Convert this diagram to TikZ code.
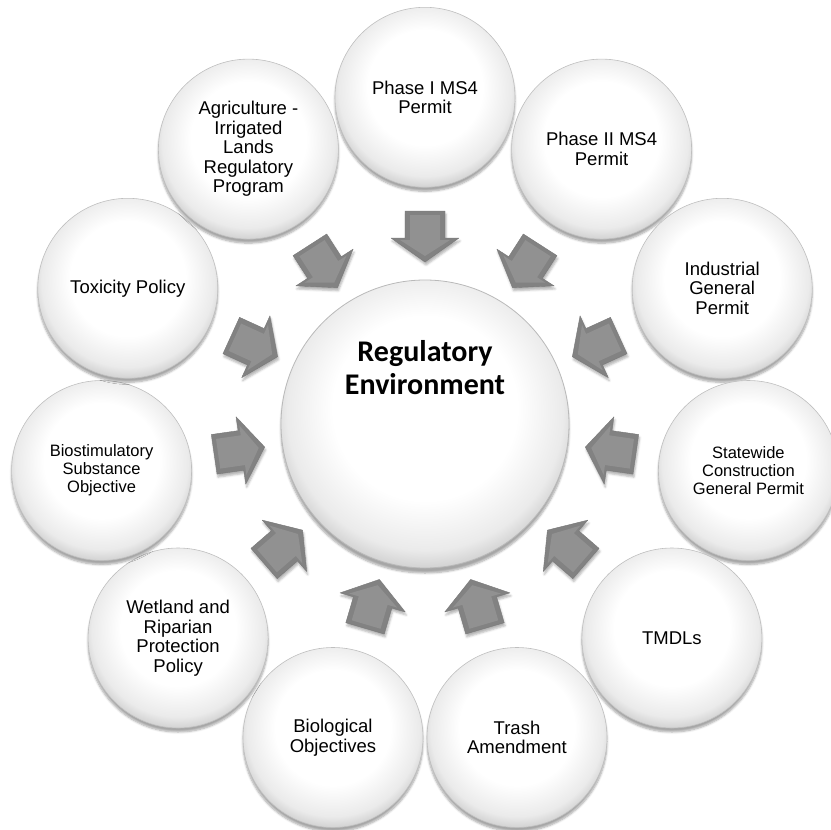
\documentclass[tikz,border=0pt]{standalone}
\usepackage{fontspec}
\setmainfont{Liberation Sans}
\newfontfamily\calibri{Carlito}
\usetikzlibrary{shadows,shadows.blur,calc}
\pgfdeclareradialshading{bubbleshade}{\pgfpoint{0bp}{4bp}}{%
  color(0bp)=(white); color(16bp)=(white); color(24bp)=(gray!16);
  color(27bp)=(gray!36); color(50bp)=(gray!40)}
\begin{document}
\begin{tikzpicture}[x=1pt,y=-1pt,
  bubble/.style={circle, minimum size=180pt, inner sep=0pt, draw=gray!50,
    line width=0.6pt, shading=bubbleshade,
    blur shadow={shadow xshift=0pt, shadow yshift=-4pt, shadow opacity=35, shadow blur steps=6},
    align=center, font=\fontsize{18.5}{19.5}\selectfont},
  smalltext/.style={font=\fontsize{16.5}{17.9}\selectfont},
  hub/.style={circle, minimum size=288pt, inner sep=0pt, draw=gray!55,
    line width=0.8pt, shading=bubbleshade,
    blur shadow={shadow xshift=0pt, shadow yshift=-5pt, shadow opacity=35, shadow blur steps=6}},
  hubtext/.style={align=center, font=\calibri\bfseries\fontsize{30}{33}\selectfont},
  inarrow/.style={fill=gray!98, draw=gray!105, line width=0.4pt, line join=round,
    blur shadow={shadow xshift=1pt, shadow yshift=-3pt, shadow opacity=30, shadow blur steps=4}},
  arrowface/.style={fill=gray!86, line join=round}
]
\useasboundingbox (0,0) rectangle (831,830);

\node[hub] (hub) at (425,424) {};
\node[hubtext] (hubt) at ($(hub.center)+(0,-56)$) {Regulatory\\Environment};

\node[bubble] (o0)  at (425.0, 97.3)  {Phase I MS4\\Permit};
\node[bubble] (o1)  at (601.6,149.1)  {Phase II MS4\\Permit};
\node[bubble] (o2)  at (722.2,288.3)  {Industrial\\General\\Permit};
\node[bubble,smalltext] (o3)  at (748.4,470.5)  {Statewide\\Construction\\General Permit};
\node[bubble] (o4)  at (671.9,638.0)  {TMDLs};
\node[bubble] (o5)  at (517.0,737.5)  {Trash\\Amendment};
\node[bubble] (o6)  at (333.0,737.5)  {Biological\\Objectives};
\node[bubble] (o7)  at (178.1,638.0)  {Wetland and\\Riparian\\Protection\\Policy};
\node[bubble,smalltext] (o8)  at (101.6,470.5)  {Biostimulatory\\Substance\\Objective};
\node[bubble] (o9)  at (127.8,288.3)  {Toxicity Policy};
\node[bubble] (o10) at (248.4,149.1)  {Agriculture -\\Irrigated\\Lands\\Regulatory\\Program};

\foreach \o in {o0,o1,o2,o3,o4,o5,o6,o7,o8,o9,o10}{
  \coordinate (tip) at ($(hub.center)!162pt!(\o.center)$);
  \coordinate (tail) at ($(hub.center)!213pt!(\o.center)$);
  \coordinate (neck) at ($(tail)!27pt!(tip)$);
  \path[inarrow] ($(tail)!20pt!90:(tip)$) -- ($(neck)!20pt!90:(tip)$)
     -- ($(neck)!34pt!90:(tip)$) -- (tip) -- ($(neck)!34pt!-90:(tip)$)
     -- ($(neck)!20pt!-90:(tip)$) -- ($(tail)!20pt!-90:(tip)$) -- cycle;
  \coordinate (itip) at ($(hub.center)!168pt!(\o.center)$);
  \coordinate (itail) at ($(hub.center)!209pt!(\o.center)$);
  \coordinate (ineck) at ($(tail)!29pt!(tip)$);
  \path[arrowface] ($(itail)!15pt!90:(itip)$) -- ($(ineck)!15pt!90:(itip)$)
     -- ($(ineck)!25pt!90:(itip)$) -- (itip) -- ($(ineck)!25pt!-90:(itip)$)
     -- ($(ineck)!15pt!-90:(itip)$) -- ($(itail)!15pt!-90:(itip)$) -- cycle;
}
\end{tikzpicture}
\end{document}
